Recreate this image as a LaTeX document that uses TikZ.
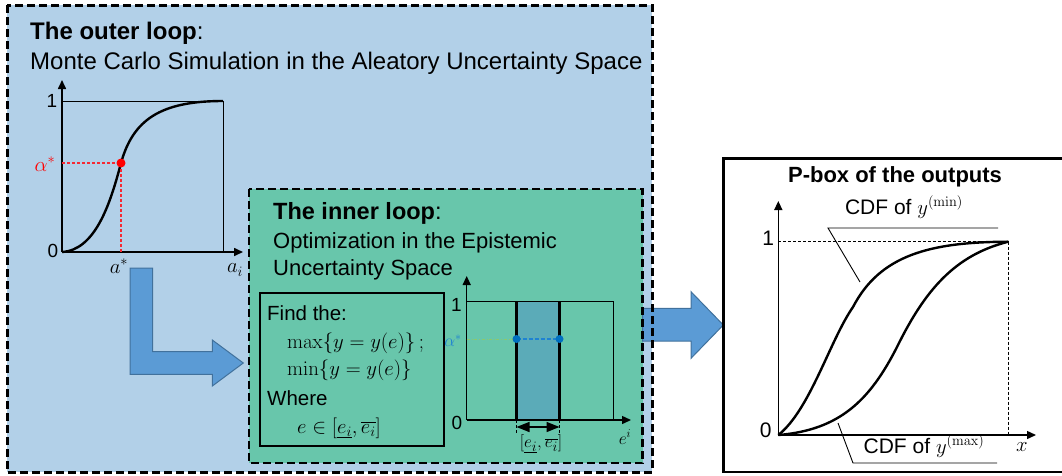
\documentclass[tikz,border=0pt]{standalone}
\usepackage[no-math]{fontspec}
\setmainfont{Liberation Sans}
\usetikzlibrary{arrows.meta}
\definecolor{outerbg}{RGB}{178,208,232}
\definecolor{innerbg}{RGB}{104,198,171}
\definecolor{bandfill}{RGB}{91,171,184}
\definecolor{arrfill}{RGB}{91,155,213}
\definecolor{arrline}{RGB}{65,113,156}
\definecolor{dotblue}{RGB}{0,112,192}
\definecolor{alphablue}{RGB}{30,130,210}
\definecolor{dashgreen}{RGB}{140,200,110}
\definecolor{dashred}{RGB}{245,40,50}
\tikzset{
  lbl/.style={inner sep=0pt, anchor=base west},
  tick/.style={inner sep=0pt, font=\fontsize{19}{20}\selectfont},
  loopbox/.style={draw=black, line width=3pt, dash pattern=on 8pt off 4pt},
  axis/.style={line width=1.6pt, -{Triangle[length=9pt,width=8pt]}},
  thinline/.style={line width=0.9pt},
  bigarrow/.style={fill=arrfill, draw=arrline, line width=1pt},
  curve/.style={line width=2.4pt},
}
\begin{document}
\begin{tikzpicture}[x=1pt,y=-1pt]
\useasboundingbox (0,0) rectangle (1062,475);
% backgrounds
\fill[outerbg] (7,5) rectangle (652,472);
\fill[innerbg] (249,189) rectangle (642.5,463);
\fill[bandfill] (516.5,301) rectangle (559.5,420);

% big arrows
\draw[bigarrow] (130,268) -- (152.7,268) -- (152.7,351.7) -- (212.3,351.7) -- (212.3,340) -- (243.3,363) -- (212.3,386) -- (212.3,374.3) -- (130,374.3) -- cycle;
\draw[bigarrow] (642.7,308.3) -- (691,308.3) -- (691,291.7) -- (723.3,325) -- (691,358.3) -- (691,341) -- (642.7,341) -- cycle;

% borders
\draw[loopbox] (7,5) rectangle (652,472);
\draw[loopbox, line width=2.6pt] (249,189) rectangle (642.5,463);
\draw[line width=2.6pt] (723.3,158.3) rectangle (1075,472);
\draw[line width=2.4pt] (260,292.7) rectangle (444,446);

% outer titles
\node[lbl, font=\fontsize{24}{28}\selectfont\bfseries] (otitle) at (30,39) {The outer loop\mdseries:};
\node[lbl, font=\fontsize{24}{28}\selectfont] (osub) at (30,69) {Monte Carlo Simulation in the Aleatory Uncertainty Space};

% outer graph
\coordinate (o0) at (62,252);
\coordinate (oy) at (62,80);
\coordinate (ox) at (243,252);
\draw[axis] (o0) -- (oy);
\draw[axis] (o0) -- (ox);
\draw[thinline] (63,101) -- (223,101) -- (223,252);
\draw[curve] (o0) .. controls (95,250) and (110,205) .. (121,163) .. controls (133,120) and (160,101) .. (223,101);
\draw[draw=dashred, dash pattern=on 3pt off 2pt, line width=1.3pt] (62,163) -- (121,163) -- (121,252);
\fill[red] (121,163) circle (4.5);
\node[tick] (o1) at (52,101) {1};
\node[tick] (oz) at (53,251) {0};
\node[inner sep=0pt, text=red, font=\fontsize{21}{22}\selectfont] (oal) at (45,164) {$\alpha^*$};
\node[inner sep=0pt, font=\fontsize{21}{22}\selectfont] (oas) at (119,266) {$a^*$};
\node[inner sep=0pt, font=\fontsize{21}{22}\selectfont] (oai) at (235,270) {$a_i$};

% inner titles
\node[lbl, font=\fontsize{23.5}{26}\selectfont\bfseries] (ititle) at (273,219) {The inner loop\mdseries:};
\node[lbl, font=\fontsize{22}{26}\selectfont] (isub1) at (273,248) {Optimization in the Epistemic};
\node[lbl, font=\fontsize{22}{26}\selectfont] (isub2) at (273,275) {Uncertainty Space};

% find box
\node[lbl, font=\fontsize{20.5}{22}\selectfont] (f1) at (267,320) {Find the:};
\node[lbl, font=\fontsize{21}{22}\selectfont] (f2) at (287,348) {$\max\{y=y(e)\}\,;$};
\node[lbl, font=\fontsize{21}{22}\selectfont] (f3) at (287,375) {$\min\{y=y(e)\}$};
\node[lbl, font=\fontsize{20.5}{22}\selectfont] (f4) at (267,405) {Where};
\node[lbl, font=\fontsize{21}{22}\selectfont] (f5) at (297,433) {$e\in[\underline{e_i},\overline{e_i}]$};

% small graph
\coordinate (s0) at (466.7,420);
\coordinate (sy) at (466.7,276);
\coordinate (sx) at (631,420);
\draw[thinline] (466.7,301) -- (613,301) -- (613,420);
\draw[line width=2.4pt] (516.5,301) -- (516.5,420);
\draw[line width=2.4pt] (559.5,301) -- (559.5,420);
\draw[axis, line width=1.4pt] (s0) -- (sy);
\draw[axis, line width=1.4pt] (s0) -- (sx);
\draw[draw=dashgreen, dash dot, line width=0.9pt] (466.7,339) -- (516.5,339);
\draw[draw=alphablue, dash pattern=on 4pt off 2pt, line width=1.4pt] (516.5,339) -- (559.5,339);
\fill[dotblue] (516.5,339) circle (4);
\fill[dotblue] (559.5,339) circle (4);
\node[tick] (s1) at (456.5,305) {1};
\node[tick] (sz) at (457,423) {0};
\node[inner sep=0pt, text=alphablue, font=\fontsize{18}{18}\selectfont] (sal) at (453,341) {$\alpha^*$};
\draw[densely dashed, line width=0.4pt] (516.5,420) -- (516.5,433);
\draw[densely dashed, line width=0.4pt] (559.5,420) -- (559.5,433);
\draw[line width=1.4pt, {Triangle[length=13pt,width=10pt]}-{Triangle[length=13pt,width=10pt]}] (516.5,427) -- (559.5,427);
\node[inner sep=0pt, font=\fontsize{19}{20}\selectfont] (sint) at (541,444) {$[\underline{e_i},\overline{e_i}]$};
\node[inner sep=0pt, font=\fontsize{18}{20}\selectfont] (sei) at (625,437) {$e^i$};

% p-box
\node[inner sep=0pt, font=\fontsize{22}{24}\selectfont\bfseries] (ptitle) at (895,177) {P-box of the outputs};
\coordinate (p0) at (778.3,435);
\coordinate (py) at (778.3,201);
\coordinate (px) at (1036,435);
\coordinate (ptop) at (1008.3,241.7);
\draw[densely dashed, line width=0.5pt] (778.3,241.7) -- (ptop) -- (1008.3,435);
\draw[axis, line width=1.4pt] (p0) -- (py);
\draw[axis, line width=1.4pt] (p0) -- (px);
\draw[curve] (p0) .. controls (810,410) and (830,340) .. (853,307) .. controls (880,255) and (930,242) .. (ptop);
\draw[curve] (p0) .. controls (840,430) and (870,400) .. (897,347) .. controls (925,290) and (955,255) .. (ptop);
\node[tick, font=\fontsize{21}{22}\selectfont] (p1) at (768.3,238.3) {1};
\node[tick, font=\fontsize{21}{22}\selectfont] (pz) at (765.7,430) {0};
\node[inner sep=0pt, font=\fontsize{21}{22}\selectfont] (pmin) at (904,207) {CDF of $y^{(\mathrm{min})}$};
\node[inner sep=0pt, font=\fontsize{21}{22}\selectfont] (pmax) at (924,446) {CDF of $y^{(\mathrm{max})}$};
\node[inner sep=0pt, font=\fontsize{22}{22}\selectfont] (pxl) at (1022,447) {$x$};
\coordinate (lminA) at (998,228);
\coordinate (lminB) at (828,228);
\coordinate (lminC) at (860,282);
\draw[thinline] (lminA) -- (lminB) -- (lminC);
\coordinate (lmaxA) at (838,423);
\coordinate (lmaxB) at (853,463);
\coordinate (lmaxC) at (997,463);
\draw[thinline] (lmaxA) -- (lmaxB) -- (lmaxC);
\end{tikzpicture}
\end{document}
